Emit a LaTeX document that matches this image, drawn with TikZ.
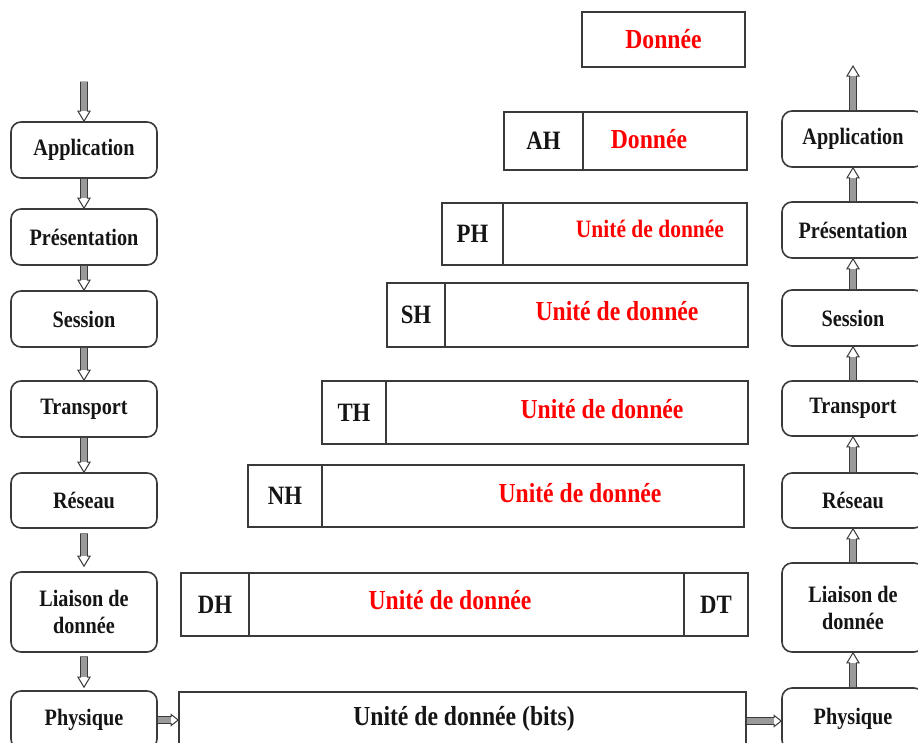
\documentclass[tikz,border=0pt]{standalone}
\usepackage{fontspec}
\setmainfont{Liberation Serif}[FakeStretch=0.86]
\usetikzlibrary{calc}

\definecolor{linec}{HTML}{3A3A3A}
\definecolor{ink}{HTML}{151515}
\definecolor{shaftc}{HTML}{9A9A9A}
\definecolor{datared}{HTML}{FF0000}

\newcommand\mylayerfont{\fontsize{23.5}{27}\selectfont\bfseries}
\newcommand\myheadfont{\fontsize{26.5}{30}\selectfont\bfseries}
\newcommand\mydatafont{\fontsize{27.5}{30}\selectfont\bfseries}

% hollow block arrow: white-filled outline, then a grey shaft inside it
\newcommand\hollowarrow[3]{%
  \draw[#1head] #2 to #3;
  \fill[#1shaft] #2 to #3;}

\tikzset{
  layer/.style={draw=linec, line width=1.6pt, rounded corners=10pt, fill=white,
    inner sep=0pt, align=center, text=ink, font=\mylayerfont},
  cell/.style={draw=linec, line width=1.6pt, fill=white, inner sep=0pt,
    text=ink, font=\myheadfont},
  reddata/.style={text=datared, inner sep=0pt, font=\mydatafont},
  blackdata/.style={text=ink, inner sep=0pt, font=\mydatafont},
  arrowline/.style={draw=linec, line width=1pt, fill=white},
  downhead/.style={arrowline, to path={let \p1=(\tikztostart), \p2=(\tikztotarget) in
    ({\x1-3.3pt},\y1) -- ({\x1-3.3pt},{\y2+10pt}) -- ({\x1-6pt},{\y2+10pt}) -- (\x1,\y2)
    -- ({\x1+6pt},{\y2+10pt}) -- ({\x1+3.3pt},{\y2+10pt}) -- ({\x1+3.3pt},\y1) -- cycle}},
  downshaft/.style={fill=shaftc, to path={let \p1=(\tikztostart), \p2=(\tikztotarget) in
    ({\x1-2.8pt},\y1) rectangle ({\x1+2.8pt},{\y2+10pt})}},
  uphead/.style={arrowline, to path={let \p1=(\tikztostart), \p2=(\tikztotarget) in
    ({\x1-3.3pt},\y1) -- ({\x1-3.3pt},{\y2-10pt}) -- ({\x1-6pt},{\y2-10pt}) -- (\x1,\y2)
    -- ({\x1+6pt},{\y2-10pt}) -- ({\x1+3.3pt},{\y2-10pt}) -- ({\x1+3.3pt},\y1) -- cycle}},
  upshaft/.style={fill=shaftc, to path={let \p1=(\tikztostart), \p2=(\tikztotarget) in
    ({\x1-2.8pt},\y1) rectangle ({\x1+2.8pt},{\y2-10pt})}},
  righthead/.style={arrowline, to path={let \p1=(\tikztostart), \p2=(\tikztotarget) in
    (\x1,{\y1+3.3pt}) -- ({\x2-7pt},{\y1+3.3pt}) -- ({\x2-7pt},{\y1+5.5pt}) -- (\x2,\y1)
    -- ({\x2-7pt},{\y1-5.5pt}) -- ({\x2-7pt},{\y1-3.3pt}) -- (\x1,{\y1-3.3pt}) -- cycle}},
  rightshaft/.style={fill=shaftc, to path={let \p1=(\tikztostart), \p2=(\tikztotarget) in
    (\x1,{\y1-2.8pt}) rectangle ({\x2-7pt},{\y1+2.8pt})}},
}

\begin{document}
\begin{tikzpicture}[x=1pt,y=-1pt]
\path[use as bounding box] (0,0) rectangle (918,742);
\clip (0,0) rectangle (918,742);

% sending stack
\node[layer, minimum width=146pt, minimum height=56pt] (lapp)   at (84,150)   {Application};
\node[layer, minimum width=146pt, minimum height=56pt] (lpres)  at (84,237)   {Présentation};
\node[layer, minimum width=146pt, minimum height=56pt] (lsess)  at (84,319)   {Session};
\node[layer, minimum width=146pt, minimum height=56pt] (ltrans) at (84,409)   {Transport};
\node[layer, minimum width=146pt, minimum height=55pt] (lres)   at (84,500.5) {Réseau};
\node[layer, minimum width=146pt, minimum height=80pt] (lliai)  at (84,612)   {Liaison de\\donnée};
\node[layer, minimum width=146pt, minimum height=58pt] (lphys)  at (84,720)   {Physique};

% receiving stack
\node[layer, minimum width=142pt, minimum height=56pt] (rapp)   at (853,139)   {Application};
\node[layer, minimum width=142pt, minimum height=56pt] (rpres)  at (853,230)   {Présentation};
\node[layer, minimum width=142pt, minimum height=56pt] (rsess)  at (853,318)   {Session};
\node[layer, minimum width=142pt, minimum height=55pt] (rtrans) at (853,408.5) {Transport};
\node[layer, minimum width=142pt, minimum height=55pt] (rres)   at (853,500.5) {Réseau};
\node[layer, minimum width=142pt, minimum height=89pt] (rliai)  at (853,607.5) {Liaison de\\donnée};
\node[layer, minimum width=142pt, minimum height=62pt] (rphys)  at (853,719)   {Physique};

% encapsulated data units
\node[cell, minimum width=163pt, minimum height=55pt, text=datared, font=\mydatafont] (don) at (663.5,39.5) {Donnée};

\node[cell, minimum width=79pt,  minimum height=58pt] (ahh) at (543.5,141) {AH};
\node[cell, minimum width=164pt, minimum height=58pt] (ahd) at (665,141) {};
\node[reddata] (aht) at (649,139) {Donnée};

\node[cell, minimum width=61pt,  minimum height=62pt] (phh) at (472.5,234) {PH};
\node[cell, minimum width=244pt, minimum height=62pt] (phd) at (625,234) {};
\node[reddata, font=\fontsize{25}{28}\selectfont\bfseries] (pht) at (650,229) {Unité de donnée};

\node[cell, minimum width=58pt,  minimum height=64pt] (shh) at (416,315) {SH};
\node[cell, minimum width=303pt, minimum height=64pt] (shd) at (596.5,315) {};
\node[reddata] (sht) at (617,311) {Unité de donnée};

\node[cell, minimum width=64pt,  minimum height=63pt] (thh) at (354,412.5) {TH};
\node[cell, minimum width=362pt, minimum height=63pt] (thd) at (567,412.5) {};
\node[reddata] (tht) at (602,409) {Unité de donnée};

\node[cell, minimum width=74pt,  minimum height=62pt] (nhh) at (285,496) {NH};
\node[cell, minimum width=422pt, minimum height=62pt] (nhd) at (533,496) {};
\node[reddata] (nht) at (580,493) {Unité de donnée};

\node[cell, minimum width=68pt,  minimum height=63pt] (dhh) at (215,604.5) {DH};
\node[cell, minimum width=435pt, minimum height=63pt] (dhd) at (466.5,604.5) {};
\node[cell, minimum width=64pt,  minimum height=63pt] (dtt) at (716,604.5) {DT};
\node[reddata] (dht) at (450,600) {Unité de donnée};

\node[cell, minimum width=567pt, minimum height=58pt] (bits) at (462.5,721) {};
\node[blackdata] (bitst) at (464,719) {Unité de donnée (bits)};

% flow down the sending stack
\coordinate (ltop) at (84,82);
\hollowarrow{down}{(ltop)}{(lapp.north)}
\hollowarrow{down}{(lapp.south)}{(lpres.north)}
\hollowarrow{down}{(lpres.south)}{(lsess.north)}
\hollowarrow{down}{(lsess.south)}{(ltrans.north)}
\hollowarrow{down}{(ltrans.south)}{(lres.north)}
\hollowarrow{down}{([yshift=-5pt]lres.south)}{([yshift=5pt]lliai.north)}
\hollowarrow{down}{([yshift=-4pt]lliai.south)}{([yshift=3pt]lphys.north)}

% across the medium
\hollowarrow{right}{(lphys.east)}{(bits.west)}
\hollowarrow{right}{(bits.east)}{(rphys.west)}

% flow up the receiving stack
\coordinate (rtop) at (853,66);
\hollowarrow{up}{(rphys.north)}{(rliai.south)}
\hollowarrow{up}{(rliai.north)}{(rres.south)}
\hollowarrow{up}{(rres.north)}{(rtrans.south)}
\hollowarrow{up}{(rtrans.north)}{(rsess.south)}
\hollowarrow{up}{(rsess.north)}{(rpres.south)}
\hollowarrow{up}{(rpres.north)}{(rapp.south)}
\hollowarrow{up}{(rapp.north)}{(rtop)}
\end{tikzpicture}
\end{document}
